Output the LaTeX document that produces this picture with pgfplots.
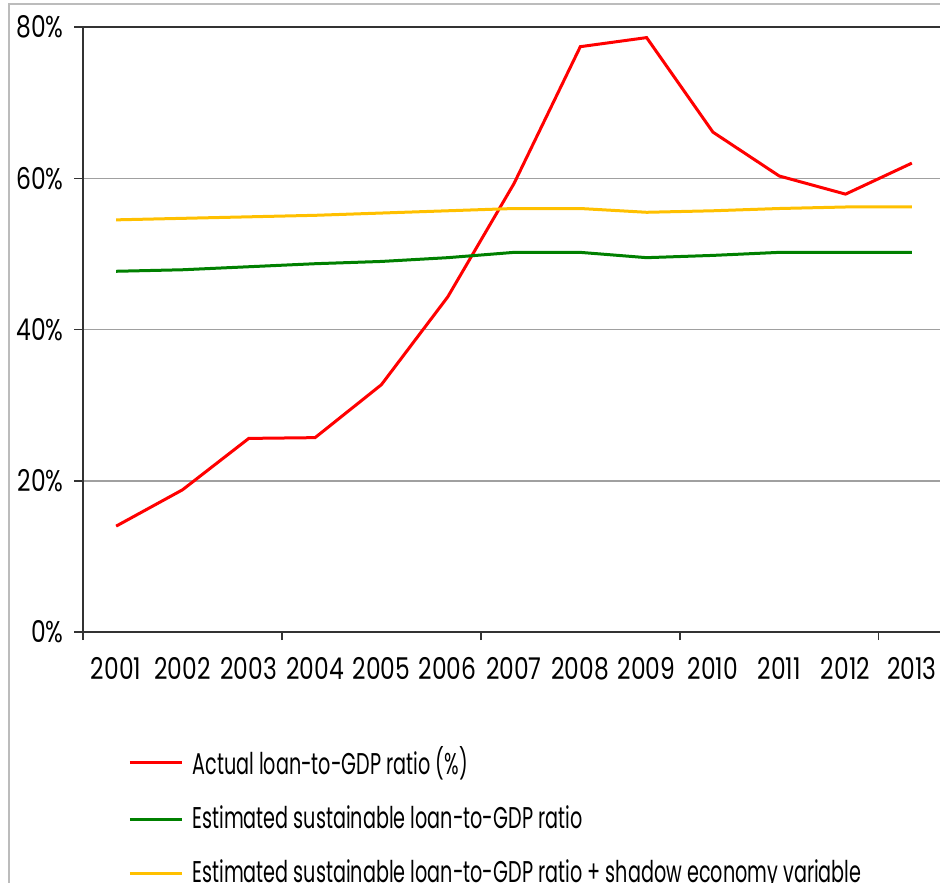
\documentclass[border=0pt]{standalone}
\usepackage{fontspec}
\setmainfont{Poppins}[FakeStretch=0.64]
\newfontfamily\tickfont{Poppins}[FakeStretch=0.78]
\usepackage{pgfplots}
\pgfplotsset{compat=1.18}

\definecolor{actred}{HTML}{FF0000}
\definecolor{estgreen}{HTML}{008000}
\definecolor{shadowyel}{HTML}{FFC000}
\definecolor{gridgrey}{HTML}{A0A0A0}
\definecolor{axisdark}{HTML}{333333}

\begin{document}
\fontsize{15bp}{18bp}\selectfont
\begin{tikzpicture}
\begin{axis}[
    name=ax,
    at={(0,0)}, anchor=south west,
    scale only axis,
    width=431bp, height=302.5bp,
    xmin=2000.5, xmax=2013.5,
    ymin=0, ymax=80,
    axis line style={axisdark, line width=0.75bp},
    xtick={2001,...,2013},
    major x tick style={draw=none},
    minor xtick={2000.5,2003.5,2006.5,2009.5,2012.5},
    minor x tick style={axisdark, line width=0.75bp},
    minor tick length=4bp,
    ytick={0,20,40,60,80},
    major y tick style={axisdark, line width=0.75bp},
    major tick length=4.5bp,
    tick align=outside,
    tick pos=left,
    ymajorgrids,
    major grid style={gridgrey, line width=0.75bp},
    tick label style={font=\tickfont\fontsize{15bp}{18bp}\selectfont},
    xticklabel style={/pgf/number format/1000 sep={}, yshift=-3bp},
    /pgf/number format/assume math mode=true,
    yticklabel={\pgfmathprintnumber{\tick}\%},
    legend style={draw=none, fill=none,
        at={(axis description cs:0.0453,-0.175)}, anchor=north west,
        row sep=9.5bp, font=\fontsize{15bp}{18bp}\selectfont,
        nodes={inner xsep=4.5bp}},
    legend cell align=left,
    legend image code/.code={\draw[#1] (0bp,0bp) -- (26bp,0bp);},
    every axis plot/.append style={line width=1.5bp},
]
\addplot[actred] coordinates {
  (2001,14.0) (2002,18.8) (2003,25.6) (2004,25.7) (2005,32.7) (2006,44.3)
  (2007,59.3) (2008,77.4) (2009,78.6) (2010,66.1) (2011,60.3) (2012,57.9)
  (2013,62.0)};
\addlegendentry{Actual loan-to-GDP ratio (\%)}
\addplot[estgreen] coordinates {
  (2001,47.7) (2002,47.9) (2003,48.3) (2004,48.7) (2005,49.0) (2006,49.5)
  (2007,50.2) (2008,50.2) (2009,49.5) (2010,49.8) (2011,50.2) (2012,50.2)
  (2013,50.2)};
\addlegendentry{Estimated sustainable loan-to-GDP ratio}
\addplot[shadowyel] coordinates {
  (2001,54.5) (2002,54.7) (2003,54.9) (2004,55.1) (2005,55.4) (2006,55.7)
  (2007,56.0) (2008,56.0) (2009,55.5) (2010,55.7) (2011,56.0) (2012,56.2)
  (2013,56.2)};
\addlegendentry{Estimated sustainable loan-to-GDP ratio + shadow economy variable}
\end{axis}
% chart frame
\draw[gridgrey!70, line width=0.6bp]
  ([shift={(-37bp,-130bp)}]ax.south west) -- ([shift={(-37bp,314bp)}]ax.south west)
  -- ([shift={(440bp,314bp)}]ax.south west);
\pgfresetboundingbox
\useasboundingbox ([shift={(-41.5bp,-125.5bp)}]ax.south west)
  rectangle ([shift={(428.5bp,316bp)}]ax.south west);
\end{tikzpicture}
\end{document}
